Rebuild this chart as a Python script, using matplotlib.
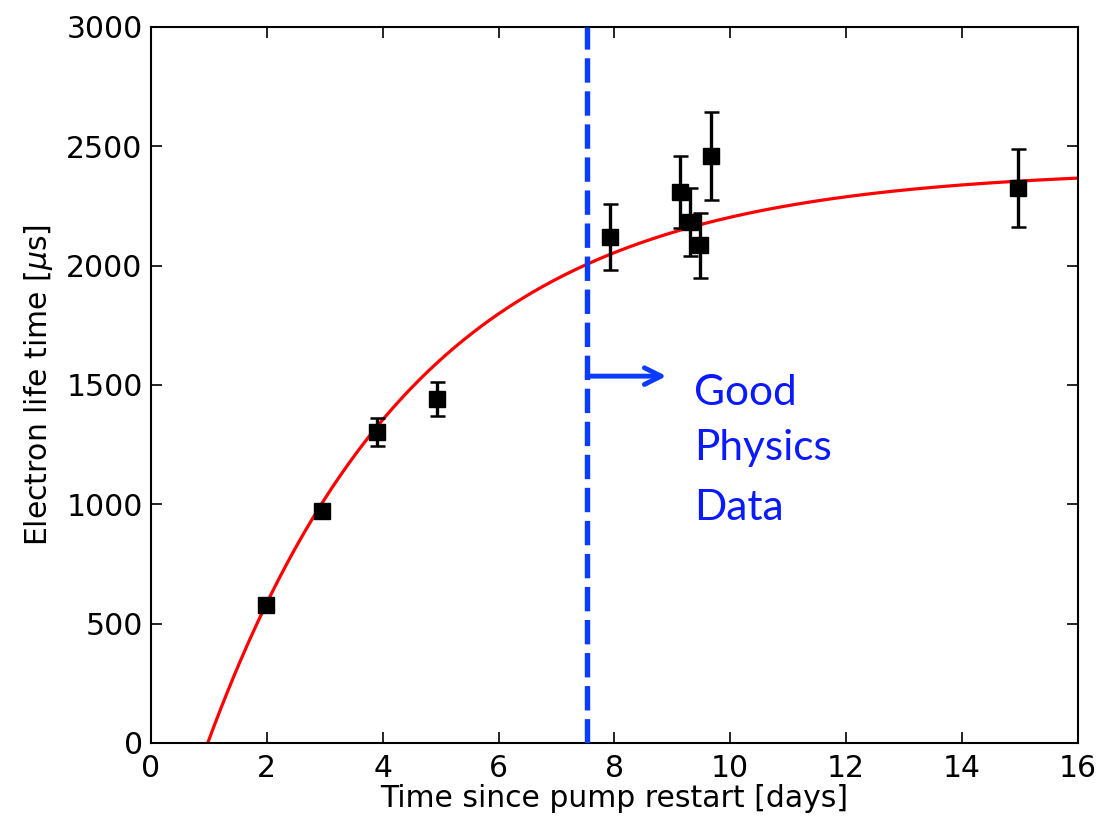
import numpy as np
import matplotlib
matplotlib.use("Agg")
import matplotlib.pyplot as plt

# Data
days = [1.98, 2.95, 3.90, 4.94, 7.92, 9.13, 9.30, 9.48, 9.66, 14.96]
lifetime = [578, 972, 1303, 1441, 2120, 2308, 2183, 2086, 2459, 2325]
lifetime_err = [15, 15, 59, 73, 140, 152, 143, 136, 185, 164]

# Fit parameters: A * (1 - exp(-(t - t0)/tau))
fit_A = 2406.0
fit_t0 = 0.98
fit_tau = 3.65

cut_day = 7.53
annot_lines = ["Good", "Physics", "Data"]
annot_baselines = [1416, 1186, 934]

fig = plt.figure(figsize=(11.02, 8.17), dpi=100)
ax = fig.add_axes([0.137, 0.0906, 0.841, 0.8764])

t = np.linspace(fit_t0, 16, 400)
ax.plot(t, fit_A * (1 - np.exp(-(t - fit_t0) / fit_tau)), color='red', lw=2.3, zorder=2)

ax.errorbar(days, lifetime, yerr=lifetime_err, fmt='s', color='black', ms=11.5,
            elinewidth=2.4, capsize=5.4, capthick=1.8, zorder=3)

ax.axvline(cut_day, color='#0a3cff', lw=3.9, dashes=(4.5, 1.6), zorder=4)

ax.annotate('', xy=(8.9, 1537), xytext=(cut_day, 1537),
            arrowprops=dict(arrowstyle='->', color='#0a3cff', lw=3.5,
                            mutation_scale=30, shrinkA=0, shrinkB=0), zorder=5)
for line, yb in zip(annot_lines, annot_baselines):
    ax.text(9.37, yb, line, color='#0a1aff', fontsize=30.5, family='Lato',
            va='baseline', ha='left')

ax.set_xlim(0, 16)
ax.set_ylim(0, 3000)
ax.set_xticks(np.arange(0, 17, 2))
ax.set_yticks(np.arange(0, 3001, 500))
ax.tick_params(direction='in', length=8, width=1.2, top=True, right=True,
               labelsize=21.5)
ax.tick_params(axis='x', pad=8)
ax.tick_params(axis='y', pad=6)
for s in ax.spines.values():
    s.set_linewidth(1.5)
ax.set_xlabel('Time since pump restart [days]', fontsize=21.5, labelpad=1)
ax.set_ylabel(r'Electron life time [$\mu$s]', fontsize=21.5, labelpad=8)

fig.savefig('out.png', dpi=100)
